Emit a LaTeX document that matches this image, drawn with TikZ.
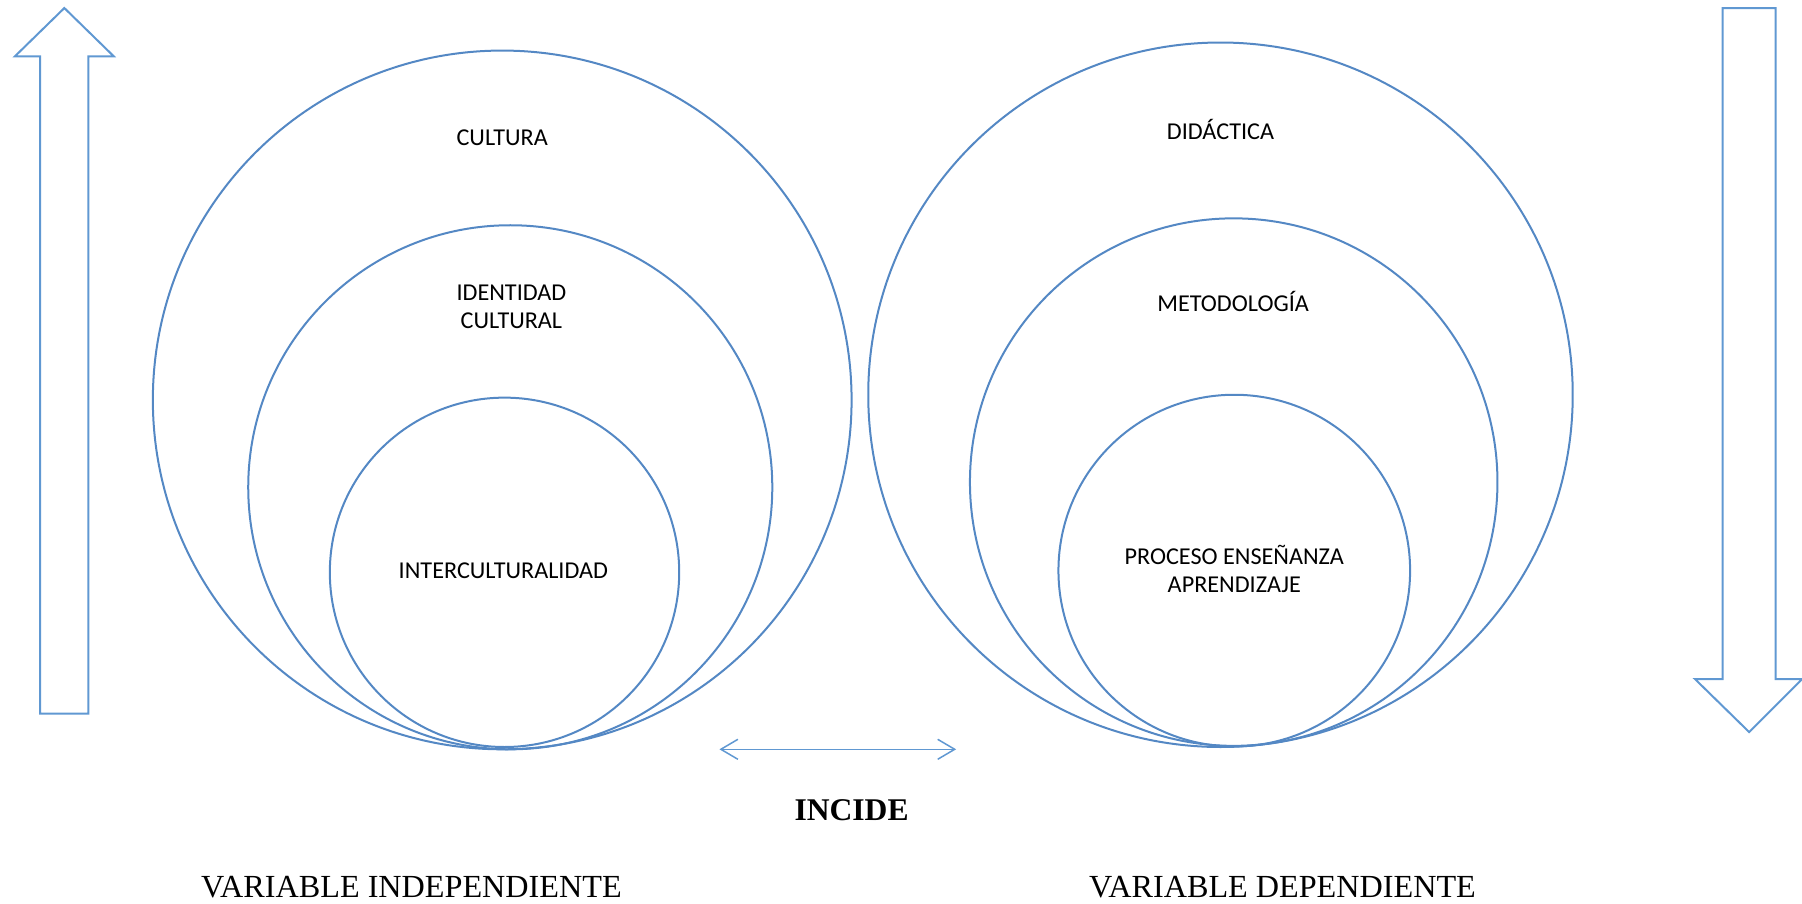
\documentclass[tikz,border=0pt]{standalone}
\usepackage{fontspec}
\setmainfont{Liberation Serif}
\newfontfamily\calibri{Carlito}
\usetikzlibrary{arrows.meta}
\definecolor{ringblue}{RGB}{84,136,196}
\definecolor{arrowblue}{RGB}{96,152,210}
\newcommand{\px}{0.5746pt}

\begin{document}
\begin{tikzpicture}[x=\px,y=-\px]
                        \tikzstyle{ring}=[circle, draw=ringblue, line width=1pt, inner sep=0pt]
                        \tikzstyle{tag}=[font=\calibri\fontsize{12.1}{13.8}\selectfont, align=center, text=black]
                        \tikzstyle{caption}=[font=\fontsize{16.1}{19}\selectfont, text=black]
                        \tikzstyle{block}=[draw=arrowblue, line width=1pt, line join=miter]
                        \useasboundingbox (0,0) rectangle (1568,786.6);
                        % variable independiente
                        \node[ring, minimum size=608*\px] (cultura) at (437,348) {};
                        \node[ring, minimum size=456*\px] (identidad) at (444,424) {};
                        \node[ring, minimum size=304*\px] (inter) at (439,498) {};
                        \node[tag] (tcultura) at (437,120) {CULTURA};
                        \node[tag] (tidentidad) at (445,267) {IDENTIDAD\\CULTURAL};
                        \node[tag] (tinter) at (438,497) {INTERCULTURALIDAD};
                        % variable dependiente
                        \node[ring, minimum size=613*\px] (didactica) at (1062,343.5) {};
                        \node[ring, minimum size=459*\px] (metodo) at (1073.5,419.5) {};
                        \node[ring, minimum size=306*\px] (proceso) at (1074,496.5) {};
                        \node[tag] (tdidactica) at (1062,113) {DIDÁCTICA};
                        \node[tag] (tmetodo) at (1073,262) {METODOLOGÍA};
                        \node[tag] (tproceso) at (1074,495) {PROCESO ENSEÑANZA\\APRENDIZAJE};
                        % flechas laterales
                        \draw[block] (35,621) -- (35,49) -- (13,49) -- (56,7) -- (99,49) -- (77,49) -- (77,621) -- cycle;
                        \draw[block] (1499,7) -- (1499,591) -- (1475,591) -- (1522,637) -- (1568,591) -- (1545,591) -- (1545,7) -- cycle;
                        % incide
                        \coordinate (izq) at (626,652);
                        \coordinate (der) at (832,652);
                        \draw[arrowblue, line width=0.75pt, {Straight Barb[length=8.5pt,width=10pt]}-{Straight Barb[length=8.5pt,width=10pt]}] (izq) -- (der);
                        \node[caption, font=\bfseries\fontsize{15.8}{19}\selectfont] (incide) at (741,705) {INCIDE};
                        \node[caption] (vind) at (358,772) {VARIABLE INDEPENDIENTE};
                        \node[caption] (vdep) at (1116,772) {VARIABLE DEPENDIENTE};
\end{tikzpicture}
\end{document}
